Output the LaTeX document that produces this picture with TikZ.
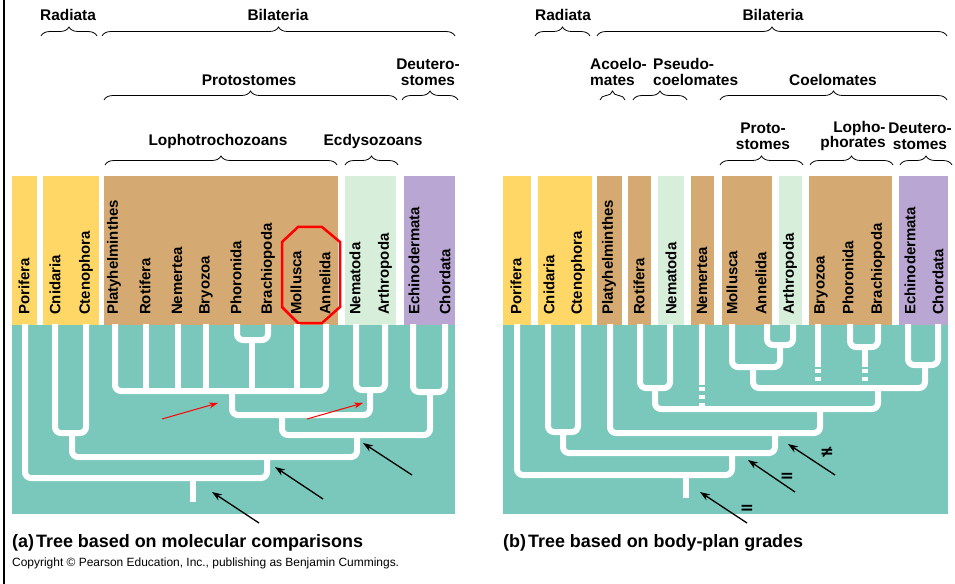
\documentclass[tikz,border=0pt]{standalone}
\usepackage{fontspec}
\setmainfont{Liberation Sans}
\newfontfamily\symfont{DejaVu Sans}
\usepackage{tikz}
\usetikzlibrary{arrows.meta, decorations.pathreplacing}
\usepackage{xcolor}

\definecolor{treeteal}{RGB}{121,200,187}
\definecolor{radyellow}{RGB}{255,215,102}
\definecolor{protobrown}{RGB}{213,170,114}
\definecolor{ecdygreen}{RGB}{215,238,218}
\definecolor{deutpurple}{RGB}{185,166,210}

\begin{document}
\begin{tikzpicture}[
  x=1bp, y=-1bp,
  >=Stealth,
  % Label styles
  taxon/.style={rotate=90, anchor=west, inner sep=0pt,
    font=\fontsize{15}{15}\selectfont\bfseries},
  group/.style={inner sep=0pt, align=center,
    font=\fontsize{15.5}{16}\selectfont\bfseries},
  grpbrace/.style={decorate, decoration={brace, amplitude=9bp}, line width=0.8bp},
  % Tree styles
  branch/.style={white, line width=6bp, rounded corners=6bp},
  dashbranch/.style={white, line width=6bp, dash pattern=on 4bp off 4bp, dash phase=6bp},
  pointer/.style={->, >={Stealth[length=10bp, width=7bp]}, line width=1.3bp, black},
  redpointer/.style={->, >={Stealth[length=9bp, width=6bp]}, line width=1bp, red},
  sym/.style={inner sep=0pt, font=\symfont\fontsize{17}{17}\selectfont\bfseries},
  caption/.style={anchor=west, inner sep=0pt, font=\fontsize{18}{18}\selectfont\bfseries}
]
\useasboundingbox (0,0) rectangle (955,584);

% Frame line at the left
\draw[line width=2bp] (4,0) -- (4,584);

% ---------------- (a) molecular tree ----------------
% Coloured bars
\fill[radyellow] (12,176) rectangle (37,325);
\fill[radyellow] (43,176) rectangle (99,325);
\fill[protobrown] (104,176) rectangle (338,325);
\fill[ecdygreen] (345,176) rectangle (396,325);
\fill[deutpurple] (404,176) rectangle (455,325);
\fill[treeteal] (12,325) rectangle (455,514);

% Taxa
\node[taxon] (porA) at (24,315) {Porifera};
\node[taxon] (cniA) at (55,315) {Cnidaria};
\node[taxon] (cteA) at (86,315) {Ctenophora};
\node[taxon] (plaA) at (114,315) {Platyhelminthes};
\node[taxon] (rotA) at (145,315) {Rotifera};
\node[taxon] (nemA) at (177,315) {Nemertea};
\node[taxon] (bryA) at (206,315) {Bryozoa};
\node[taxon] (phoA) at (236,315) {Phoronida};
\node[taxon] (braA) at (268,315) {Brachiopoda};
\node[taxon] (molA) at (296,315) {Mollusca};
\node[taxon] (annA) at (325,315) {Annelida};
\node[taxon] (nemaA) at (355,315) {Nematoda};
\node[taxon] (arthA) at (385,315) {Arthropoda};
\node[taxon] (echA) at (414,315) {Echinodermata};
\node[taxon] (choA) at (445,315) {Chordata};

% Highlight round Mollusca and Annelida
\draw[red, line width=2.5bp] (298,227) -- (322,227) -- (340,242) -- (340,307)
  -- (322,323) -- (298,323) -- (282,307) -- (282,242) -- cycle;

% Groups
\node[group] (radiA) at (68,15) {Radiata};
\draw[grpbrace] (41,36) -- (97,36);
\node[group] (bilaA) at (278,15) {Bilateria};
\draw[grpbrace] (102,36) -- (455,36);
\node[group] (protA) at (249,80) {Protostomes};
\draw[grpbrace] (104,100) -- (397,100);
\node[group] (deutgA) at (428,72) {Deutero-\\stomes};
\draw[grpbrace] (402,100) -- (458,100);
\node[group] (lophgA) at (218,142) {Lophotrochozoans};
\draw[grpbrace] (105,165) -- (337,165);
\node[group] (ecdygA) at (373,142) {Ecdysozoans};
\draw[grpbrace] (345,165) -- (398,165);

% Leaf ends
\coordinate (lfporA) at (25,324);
\coordinate (lfcniA) at (55,324);
\coordinate (lfcteA) at (86,324);
\coordinate (lfplaA) at (115,324);
\coordinate (lfrotA) at (146,324);
\coordinate (lfnemA) at (178,324);
\coordinate (lfbryA) at (206,324);
\coordinate (lfphoA) at (237,324);
\coordinate (lfbraA) at (268,324);
\coordinate (lfmolA) at (297,324);
\coordinate (lfannA) at (326,324);
\coordinate (lfnemaA) at (356,324);
\coordinate (lfarthA) at (385,324);
\coordinate (lfechA) at (413,324);
\coordinate (lfchoA) at (445,324);

% Branch points
\coordinate (phobraA) at (252,340);
\coordinate (lophoA) at (232,391);
\coordinate (ecdyA) at (370,390);
\coordinate (protoA) at (282,415);
\coordinate (deutA) at (430,392);
\coordinate (bilatA) at (357,435);
\coordinate (radA) at (72,433);
\coordinate (eumetA) at (267,457);
\coordinate (rootA) at (193,478);
\coordinate (baseA) at (193,502);

% Branches
\draw[branch] (lfphoA) |- (phobraA) -| (lfbraA);
\draw[branch] (lfplaA) |- (lophoA) -| (lfannA);
\draw[branch] (lfrotA) -- (lfrotA |- lophoA);
\draw[branch] (lfnemA) -- (lfnemA |- lophoA);
\draw[branch] (lfbryA) -- (lfbryA |- lophoA);
\draw[branch] (lfmolA) -- (lfmolA |- lophoA);
\draw[branch] (phobraA) -- (phobraA |- lophoA);
\draw[branch] (lfnemaA) |- (ecdyA) -| (lfarthA);
\draw[branch] (lophoA) |- (protoA) -| (ecdyA);
\draw[branch] (lfechA) |- (deutA) -| (lfchoA);
\draw[branch] (protoA) |- (bilatA) -| (deutA);
\draw[branch] (lfcniA) |- (radA) -| (lfcteA);
\draw[branch] (radA) |- (eumetA) -| (bilatA);
\draw[branch] (lfporA) |- (rootA) -| (eumetA);
\draw[branch] (rootA) -- (baseA);

% Pointers
\coordinate (rp1t) at (162,419);
\coordinate (rp1h) at (218,403);
\coordinate (rp2t) at (307,419);
\coordinate (rp2h) at (363,403);
\draw[redpointer] (rp1t) -- (rp1h);
\draw[redpointer] (rp2t) -- (rp2h);
\coordinate (bp1t) at (412,475);
\coordinate (bp1h) at (363,443);
\coordinate (bp2t) at (323,499);
\coordinate (bp2h) at (275,467);
\coordinate (bp3t) at (259,523);
\coordinate (bp3h) at (212,492);
\draw[pointer] (bp1t) -- (bp1h);
\draw[pointer] (bp2t) -- (bp2h);
\draw[pointer] (bp3t) -- (bp3h);

% ---------------- (b) body-plan tree ----------------
% Coloured bars
\fill[radyellow] (503,176) rectangle (531,325);
\fill[radyellow] (538,176) rectangle (592,325);
\fill[protobrown] (597,176) rectangle (622,325);
\fill[protobrown] (628,176) rectangle (651,325);
\fill[ecdygreen] (658,176) rectangle (684,325);
\fill[protobrown] (691,176) rectangle (714,325);
\fill[protobrown] (722,176) rectangle (772,325);
\fill[ecdygreen] (779,176) rectangle (802,325);
\fill[protobrown] (809,176) rectangle (892,325);
\fill[deutpurple] (899,176) rectangle (948,325);
\fill[treeteal] (503,325) rectangle (948,514);

% Taxa
\node[taxon] (porB) at (516,315) {Porifera};
\node[taxon] (cniB) at (549,315) {Cnidaria};
\node[taxon] (cteB) at (578,315) {Ctenophora};
\node[taxon] (plaB) at (609,315) {Platyhelminthes};
\node[taxon] (rotB) at (639,315) {Rotifera};
\node[taxon] (nemaB) at (671,315) {Nematoda};
\node[taxon] (nemB) at (702,315) {Nemertea};
\node[taxon] (molB) at (732,315) {Mollusca};
\node[taxon] (annB) at (761,315) {Annelida};
\node[taxon] (arthB) at (790,315) {Arthropoda};
\node[taxon] (bryB) at (821,315) {Bryozoa};
\node[taxon] (phoB) at (848,315) {Phoronida};
\node[taxon] (braB) at (878,315) {Brachiopoda};
\node[taxon] (echB) at (910,315) {Echinodermata};
\node[taxon] (choB) at (938,315) {Chordata};

% Groups
\node[group] (radiB) at (563,15) {Radiata};
\draw[grpbrace] (535,36) -- (590,36);
\node[group] (bilaB) at (773,15) {Bilateria};
\draw[grpbrace] (597,36) -- (947,36);
\node[group, align=left, anchor=west] (acoeB) at (590,72) {Acoelo-\\mates};
\draw[grpbrace] (600,100) -- (625,100);
\node[group, align=left, anchor=west] (pseuB) at (653,72) {Pseudo-\\coelomates};
\draw[grpbrace] (633,100) -- (687,100);
\node[group] (coelgB) at (833,80) {Coelomates};
\draw[grpbrace] (720,100) -- (947,100);
\node[group] (protgB) at (763,136) {Proto-\\stomes};
\draw[grpbrace] (720,165) -- (803,165);
\node[group, align=right] (lophgB) at (853,136) {Lopho-\\phorates};
\draw[grpbrace] (810,165) -- (893,165);
\node[group] (deutgB) at (920,136) {Deutero-\\stomes};
\draw[grpbrace] (900,165) -- (952,165);

% Leaf ends
\coordinate (lfporB) at (517,324);
\coordinate (lfcniB) at (548,324);
\coordinate (lfcteB) at (578,324);
\coordinate (lfplaB) at (610,324);
\coordinate (lfrotB) at (640,324);
\coordinate (lfnemaB) at (670,324);
\coordinate (lfnemB) at (702,324);
\coordinate (lfmolB) at (732,324);
\coordinate (lfannB) at (767,324);
\coordinate (lfarthB) at (793,324);
\coordinate (lfbryB) at (818,324);
\coordinate (lfphoB) at (850,324);
\coordinate (lfbraB) at (878,324);
\coordinate (lfechB) at (908,324);
\coordinate (lfchoB) at (938,324);

% Branch points
\coordinate (annarthB) at (780,345);
\coordinate (articB) at (753,367);
\coordinate (phobraB) at (865,347);
\coordinate (deutB) at (925,365);
\coordinate (coelB) at (878,388);
\coordinate (rotnemB) at (655,388);
\coordinate (nemcutB) at (702,385);
\coordinate (pseudoB) at (820,409);
\coordinate (bilatB) at (775,433);
\coordinate (radB) at (563,432);
\coordinate (eumetB) at (732,453);
\coordinate (rootB) at (686,475);
\coordinate (baseB) at (686,498);

% Branches
\draw[branch] (lfannB) |- (annarthB) -| (lfarthB);
\draw[branch] (lfmolB) |- (articB) -| (annarthB);
\draw[branch] (lfphoB) |- (phobraB) -| (lfbraB);
\draw[branch] (lfechB) |- (deutB) -| (lfchoB);
\draw[branch] (articB) |- (coelB) -| (deutB);
\draw[branch] (lfbryB) -- (lfbryB |- articB);
\draw[dashbranch] (lfbryB |- articB) -- (lfbryB |- coelB);
\draw[branch] (phobraB) -- (phobraB |- articB);
\draw[dashbranch] (phobraB |- articB) -- (phobraB |- coelB);
\draw[branch] (lfrotB) |- (rotnemB) -| (lfnemaB);
\draw[branch] (rotnemB) |- (pseudoB) -| (coelB);
\draw[branch] (lfnemB) -- (nemcutB);
\draw[dashbranch] (nemcutB) -- (nemcutB |- pseudoB);
\draw[branch] (lfplaB) |- (bilatB) -| (pseudoB);
\draw[branch] (lfcniB) |- (radB) -| (lfcteB);
\draw[branch] (radB) |- (eumetB) -| (bilatB);
\draw[branch] (lfporB) |- (rootB) -| (eumetB);
\draw[branch] (rootB) -- (baseB);

% Pointers with grade marks
\coordinate (bq1t) at (835,475);
\coordinate (bq1h) at (788,444);
\coordinate (bq2t) at (795,492);
\coordinate (bq2h) at (748,460);
\coordinate (bq3t) at (747,523);
\coordinate (bq3h) at (700,492);
\draw[pointer] (bq1t) -- (bq1h);
\draw[pointer] (bq2t) -- (bq2h);
\draw[pointer] (bq3t) -- (bq3h);
\node[sym] (neqB) at (827,452) {≠};
\node[sym] (eqaB) at (787,477) {=};
\node[sym] (eqbB) at (747,509) {=};

% Captions
\node[caption] (capA) at (12,543) {(a)\hspace{2bp}Tree based on molecular comparisons};
\node[caption] (capB) at (503,543) {(b)\hspace{2bp}Tree based on body-plan grades};
\node[anchor=west, inner sep=0pt, font=\fontsize{12}{12}\selectfont] (copyr) at (12,563)
  {Copyright © Pearson Education, Inc., publishing as Benjamin Cummings.};

\end{tikzpicture}
\end{document}
